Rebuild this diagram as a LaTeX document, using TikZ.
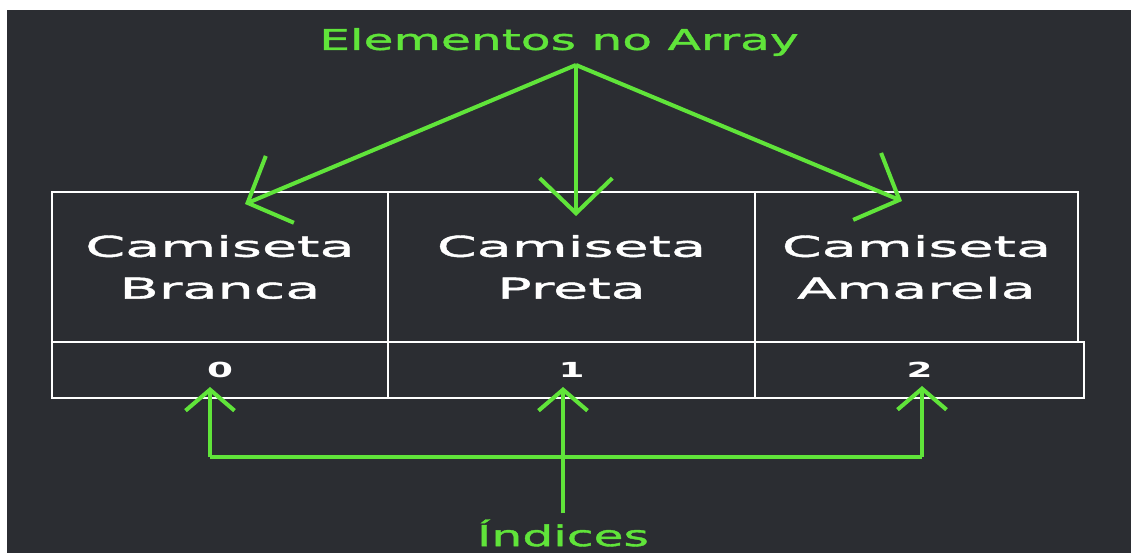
\documentclass[tikz,border=0pt]{standalone}
\usepackage{fontspec}
\usepackage{tikz}
\usetikzlibrary{arrows.meta}

\newfontfamily\caixafont[FakeStretch=2.0,FakeBold=1.5]{DejaVu Sans}
\newfontfamily\numerofont[FakeStretch=1.8]{DejaVu Sans Bold}
\newfontfamily\titulofont[FakeStretch=1.7,FakeBold=1.4]{DejaVu Sans}

\definecolor{fundo}{RGB}{43,45,50}
\definecolor{verde}{RGB}{96,228,58}

\tikzset{
  celula/.style={shape=rectangle,draw=white,line width=1.1pt,inner sep=0pt,text=white,align=center,
    font={\caixafont\fontsize{16.3}{23.8}\selectfont}},
  indice/.style={celula,font={\numerofont\fontsize{11.8}{14}\selectfont}},
  rotulo/.style={text=verde,font={\titulofont\fontsize{16.3}{19}\selectfont}},
  setagrande/.style={draw=verde,line width=2.3pt,-{Straight Barb[length=0.7cm,width=1.45cm]}},
  setapequena/.style={draw=verde,line width=2.3pt,-{Straight Barb[length=0.42cm,width=0.98cm]}},
  linha/.style={draw=verde,line width=2.3pt}
}

\begin{document}
\begin{tikzpicture}[x=0.02cm,y=-0.02cm]
        \useasboundingbox (0,0) rectangle (1131,553);
        \fill[white] (0,0) rectangle (1131,553);
        \fill[fundo] (7,10) rectangle (1131,553);

        \node[celula,minimum width=336*0.02cm,minimum height=150*0.02cm] (c0) at (220,267)   {Camiseta\\Branca};
        \node[celula,minimum width=367*0.02cm,minimum height=150*0.02cm] (c1) at (571.5,267) {Camiseta\\Preta};
        \node[celula,minimum width=323*0.02cm,minimum height=150*0.02cm] (c2) at (916.5,267) {Camiseta\\Amarela};
        \node[indice,minimum width=336*0.02cm,minimum height=56*0.02cm] (n0) at (220,370)   {0};
        \node[indice,minimum width=367*0.02cm,minimum height=56*0.02cm] (n1) at (571.5,370) {1};
        \node[indice,minimum width=329*0.02cm,minimum height=56*0.02cm] (n2) at (919.5,370) {2};

        \node[rotulo] (elementos) at (559,42)  {Elementos no Array};
        \node[rotulo] (indices)   at (563,533) {Índices};

        \coordinate (topo) at (576,65);
        \coordinate (e0) at (245,204);
        \coordinate (e1) at (576,216);
        \coordinate (e2) at (902,201);
        \coordinate (b0) at (210,457);
        \coordinate (b2) at (922,457);
        \coordinate (i0) at (210,387);
        \coordinate (i1) at (563,387);
        \coordinate (i2) at (922,386);

	\draw[setagrande] (topo) -- (e0);
	\draw[setagrande] (topo) -- (e1);
	\draw[setagrande] (topo) -- (e2);
	\draw[linha] (b0) -- (b2);
	\draw[setapequena] (b0) -- (i0);
	\draw[setapequena] (b2) -- (i2);
	\draw[setapequena] (indices.north -| i1) -- (i1);
\end{tikzpicture}
\end{document}
